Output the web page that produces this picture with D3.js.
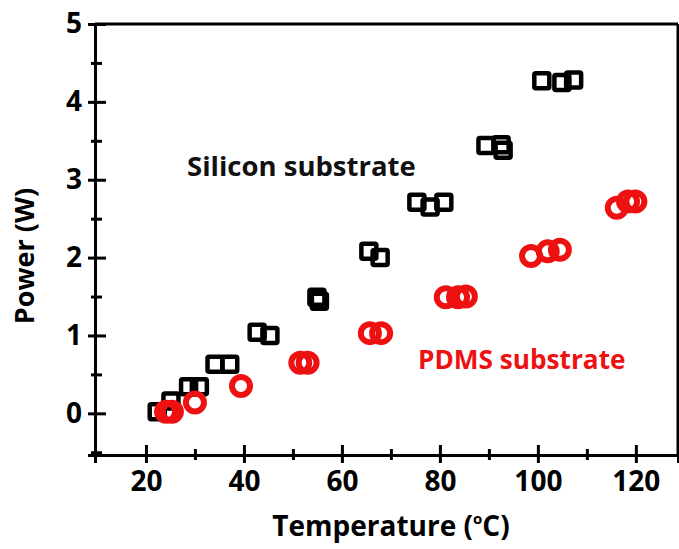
<!DOCTYPE html>
<html>
<head>
<meta charset="utf-8">
<script src="https://cdn.jsdelivr.net/npm/d3@7"></script>
<style>
  body { margin: 0; background: #fff; }
  svg { display: block; }
  text { font-family: "Open Sans", "DejaVu Sans", sans-serif; font-weight: 700; }
</style>
</head>
<body>
<div id="chart"></div>
<script>
// silicon substrate (black open squares)
var siliconTemp  = [22.3, 25.1, 28.7, 30.9, 34.1, 37.1, 42.7, 45.3, 54.9, 55.4, 65.5, 67.8, 75.3, 78.0, 80.8, 89.4, 92.9, 92.5, 100.8, 104.9, 107.3];
var siliconPower = [0.02, 0.16, 0.34, 0.34, 0.63, 0.63, 1.04, 1.00, 1.49, 1.44, 2.08, 2.00, 2.71, 2.65, 2.71, 3.44, 3.38, 3.45, 4.27, 4.25, 4.28];

// PDMS substrate (red open circles)
var pdmsTemp  = [24.1, 25.3, 30.0, 39.4, 51.5, 53.0, 65.7, 68.0, 81.2, 83.7, 85.3, 98.6, 102.0, 104.5, 116.1, 118.4, 119.9];
var pdmsPower = [0.02, 0.02, 0.14, 0.35, 0.65, 0.65, 1.03, 1.03, 1.49, 1.49, 1.50, 2.02, 2.08, 2.10, 2.64, 2.72, 2.72];

var xMajor = [20, 40, 60, 80, 100, 120];
var xMinor = [30, 50, 70, 90, 110];
var yMajor = [0, 1, 2, 3, 4, 5];
var yMinor = [-0.5, 0.5, 1.5, 2.5, 3.5, 4.5];

const width = 679, height = 549;
const red = "#ee1111";

var svg = d3.select("#chart").append("svg")
    .attr("width", width)
    .attr("height", height);

const x = d3.scaleLinear().domain([9.6, 128.6]).range([95, 678]);
const y = d3.scaleLinear().domain([-0.535, 5]).range([455, 24]);

// frame top + right
svg.append("line")
    .attr("x1", x.range()[0]).attr("x2", x.range()[1])
    .attr("y1", y.range()[1]).attr("y2", y.range()[1])
    .attr("stroke", "#000").attr("stroke-width", 3);
svg.append("line")
    .attr("x1", x.range()[1]).attr("x2", x.range()[1])
    .attr("y1", y.range()[0]).attr("y2", y.range()[1])
    .attr("stroke", "#000").attr("stroke-width", 3);

// x axis, major then minor ticks
var xAxis = svg.append("g")
    .attr("transform", "translate(0," + y.range()[0] + ")")
    .call(d3.axisBottom(x).tickValues(xMajor).tickSize(8).tickPadding(8));
xAxis.selectAll(".tick line").attr("y1", -10);
svg.append("g")
    .attr("class", "minor")
    .attr("transform", "translate(0," + y.range()[0] + ")")
    .call(d3.axisBottom(x).tickValues(xMinor).tickSize(5).tickFormat(""))
    .selectAll(".tick line").attr("y1", -6);

// y axis
var yAxis = svg.append("g")
    .attr("transform", "translate(" + x.range()[0] + ",0)")
    .call(d3.axisLeft(y).tickValues(yMajor).tickFormat(d3.format("d")).tickSize(7).tickPadding(6));
yAxis.selectAll(".tick line").attr("x1", 11);
svg.append("g")
    .attr("class", "minor")
    .attr("transform", "translate(" + x.range()[0] + ",0)")
    .call(d3.axisLeft(y).tickValues(yMinor).tickSize(4).tickFormat(""))
    .selectAll(".tick line").attr("x1", 7);

svg.selectAll(".domain").attr("stroke-width", 3);
svg.selectAll(".tick line").attr("stroke-width", 3);
svg.selectAll(".tick text")
    .attr("font-size", 28)
    .attr("fill", "#000");

// data points
var siliconData = siliconTemp.map((t, i) => ({t: t, p: siliconPower[i]}));
var pdmsData = pdmsTemp.map((t, i) => ({t: t, p: pdmsPower[i]}));

const side = 15;
svg.append("g")
    .selectAll("rect")
    .data(siliconData)
    .enter()
    .append("rect")
    .attr("x", d => x(d.t) - side / 2)
    .attr("y", d => y(d.p) - side / 2)
    .attr("width", side)
    .attr("height", side)
    .attr("rx", 1.5)
    .attr("fill", "none")
    .attr("stroke", "#000")
    .attr("stroke-width", 4.5);

svg.append("g")
    .selectAll("circle")
    .data(pdmsData)
    .enter()
    .append("circle")
    .attr("cx", d => x(d.t))
    .attr("cy", d => y(d.p))
    .attr("r", 9)
    .attr("fill", "none")
    .attr("stroke", red)
    .attr("stroke-width", 6);

// annotations
svg.append("text")
    .attr("x", 187).attr("y", 176)
    .attr("font-size", 27.5)
    .attr("fill", "#111")
    .text("Silicon substrate");

svg.append("text")
    .attr("x", 418).attr("y", 369)
    .attr("font-size", 26.2)
    .attr("fill", red)
    .text("PDMS substrate");

// axis titles
var xTitle = svg.append("text")
    .attr("x", 391).attr("y", 536)
    .attr("text-anchor", "middle")
    .attr("font-size", 28)
    .attr("fill", "#000");
xTitle.append("tspan").text("Temperature (");
xTitle.append("tspan").attr("font-size", 15).attr("dy", -12).text("o");
xTitle.append("tspan").attr("dy", 12).text("C)");

svg.append("text")
    .attr("transform", "translate(34,256) rotate(-90)")
    .attr("text-anchor", "middle")
    .attr("font-size", 27)
    .attr("fill", "#000")
    .text("Power (W)");
</script>
</body>
</html>
